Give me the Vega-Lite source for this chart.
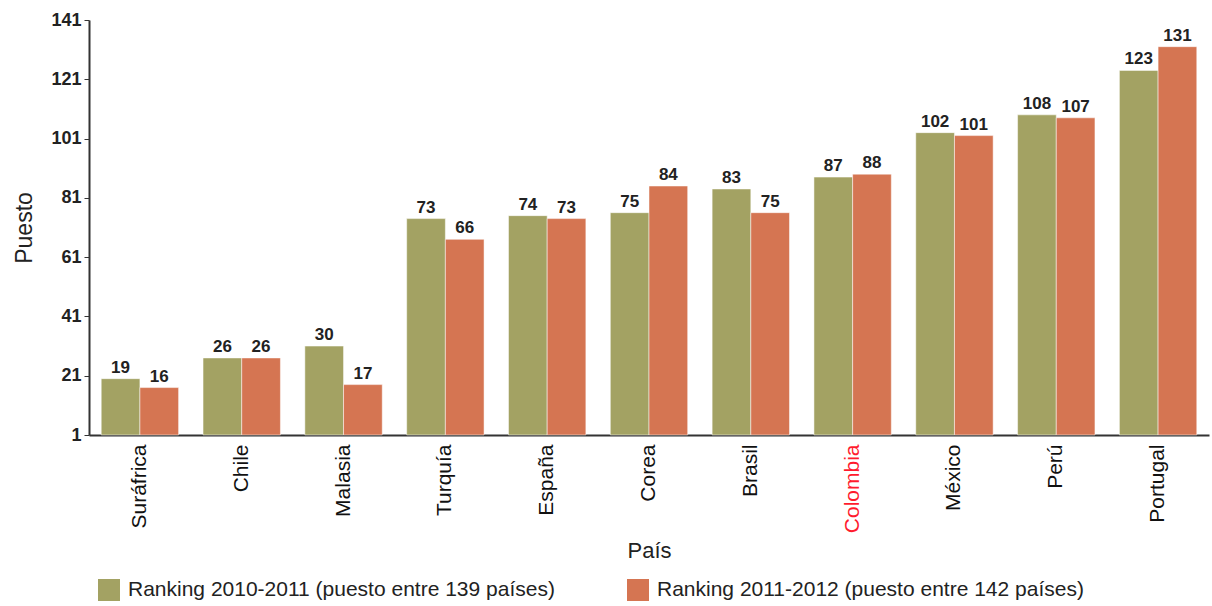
{
  "$schema": "https://vega.github.io/schema/vega-lite/v6.json",
  "autosize": {"type": "none"},
  "width": 1120,
  "height": 415,
  "padding": {"left": 89, "top": 20, "right": 3, "bottom": 171},
  "background": "white",
  "config": {
    "font": "Liberation Sans",
    "view": {"stroke": null}
  },
  "data": {
    "values": [
      {"pais": "Suráfrica", "serie": "Ranking 2010-2011 (puesto entre 139 países)", "puesto": 19},
      {"pais": "Suráfrica", "serie": "Ranking 2011-2012 (puesto entre 142 países)", "puesto": 16},
      {"pais": "Chile", "serie": "Ranking 2010-2011 (puesto entre 139 países)", "puesto": 26},
      {"pais": "Chile", "serie": "Ranking 2011-2012 (puesto entre 142 países)", "puesto": 26},
      {"pais": "Malasia", "serie": "Ranking 2010-2011 (puesto entre 139 países)", "puesto": 30},
      {"pais": "Malasia", "serie": "Ranking 2011-2012 (puesto entre 142 países)", "puesto": 17},
      {"pais": "Turquía", "serie": "Ranking 2010-2011 (puesto entre 139 países)", "puesto": 73},
      {"pais": "Turquía", "serie": "Ranking 2011-2012 (puesto entre 142 países)", "puesto": 66},
      {"pais": "España", "serie": "Ranking 2010-2011 (puesto entre 139 países)", "puesto": 74},
      {"pais": "España", "serie": "Ranking 2011-2012 (puesto entre 142 países)", "puesto": 73},
      {"pais": "Corea", "serie": "Ranking 2010-2011 (puesto entre 139 países)", "puesto": 75},
      {"pais": "Corea", "serie": "Ranking 2011-2012 (puesto entre 142 países)", "puesto": 84},
      {"pais": "Brasil", "serie": "Ranking 2010-2011 (puesto entre 139 países)", "puesto": 83},
      {"pais": "Brasil", "serie": "Ranking 2011-2012 (puesto entre 142 países)", "puesto": 75},
      {"pais": "Colombia", "serie": "Ranking 2010-2011 (puesto entre 139 países)", "puesto": 87},
      {"pais": "Colombia", "serie": "Ranking 2011-2012 (puesto entre 142 países)", "puesto": 88},
      {"pais": "México", "serie": "Ranking 2010-2011 (puesto entre 139 países)", "puesto": 102},
      {"pais": "México", "serie": "Ranking 2011-2012 (puesto entre 142 países)", "puesto": 101},
      {"pais": "Perú", "serie": "Ranking 2010-2011 (puesto entre 139 países)", "puesto": 108},
      {"pais": "Perú", "serie": "Ranking 2011-2012 (puesto entre 142 países)", "puesto": 107},
      {"pais": "Portugal", "serie": "Ranking 2010-2011 (puesto entre 139 países)", "puesto": 123},
      {"pais": "Portugal", "serie": "Ranking 2011-2012 (puesto entre 142 países)", "puesto": 131}
    ]
  },
  "encoding": {
    "x": {
      "field": "pais",
      "type": "nominal",
      "sort": null,
      "scale": {"paddingInner": 0.24, "paddingOuter": 0.12},
      "axis": {
        "title": "País",
        "titleFontSize": 22,
        "titleFontWeight": "normal",
        "titleColor": "#222222",
        "titlePadding": 8,
        "labelAngle": -90,
        "labelFontSize": 21,
        "labelPadding": 9,
        "labelColor": {"condition": {"test": "datum.value === 'Colombia'", "value": "#FF1A2E"}, "value": "#111111"},
        "ticks": false,
        "domainColor": "#333333",
        "domainWidth": 2
      }
    },
    "xOffset": {"field": "serie", "type": "nominal", "sort": null},
    "y": {
      "field": "puesto",
      "type": "quantitative",
      "scale": {"domain": [0, 140], "nice": false, "zero": true},
      "axis": {
        "title": "Puesto",
        "titleFontSize": 23,
        "titleFontWeight": "normal",
        "titleColor": "#222222",
        "titlePadding": 14,
        "values": [0, 20, 40, 60, 80, 100, 120, 140],
        "labelExpr": "datum.value + 1",
        "labelFontSize": 18,
        "labelFontWeight": "bold",
        "labelColor": "#222222",
        "labelPadding": 3,
        "grid": false,
        "tickColor": "#333333",
        "tickSize": 5,
        "domainColor": "#333333",
        "domainWidth": 2
      }
    }
  },
  "layer": [
    {
      "mark": {"type": "bar", "stroke": "white", "strokeWidth": 0.5},
      "encoding": {
        "color": {
          "field": "serie",
          "type": "nominal",
          "sort": null,
          "scale": {"range": ["#A3A263", "#D57552"]},
          "legend": {
            "title": null,
            "orient": "none",
            "direction": "horizontal",
            "legendX": 9,
            "legendY": 559,
            "symbolType": "square",
            "symbolSize": 484,
            "symbolStrokeWidth": 0,
            "labelFontSize": 21,
            "labelColor": "#222222",
            "labelLimit": 600,
            "columnPadding": 72,
            "labelOffset": 8
          }
        }
      }
    },
    {
      "mark": {"type": "text", "dy": -11, "fontSize": 17, "fontWeight": "bold", "color": "#222222"},
      "encoding": {
        "text": {"field": "puesto", "type": "quantitative"}
      }
    }
  ]
}
